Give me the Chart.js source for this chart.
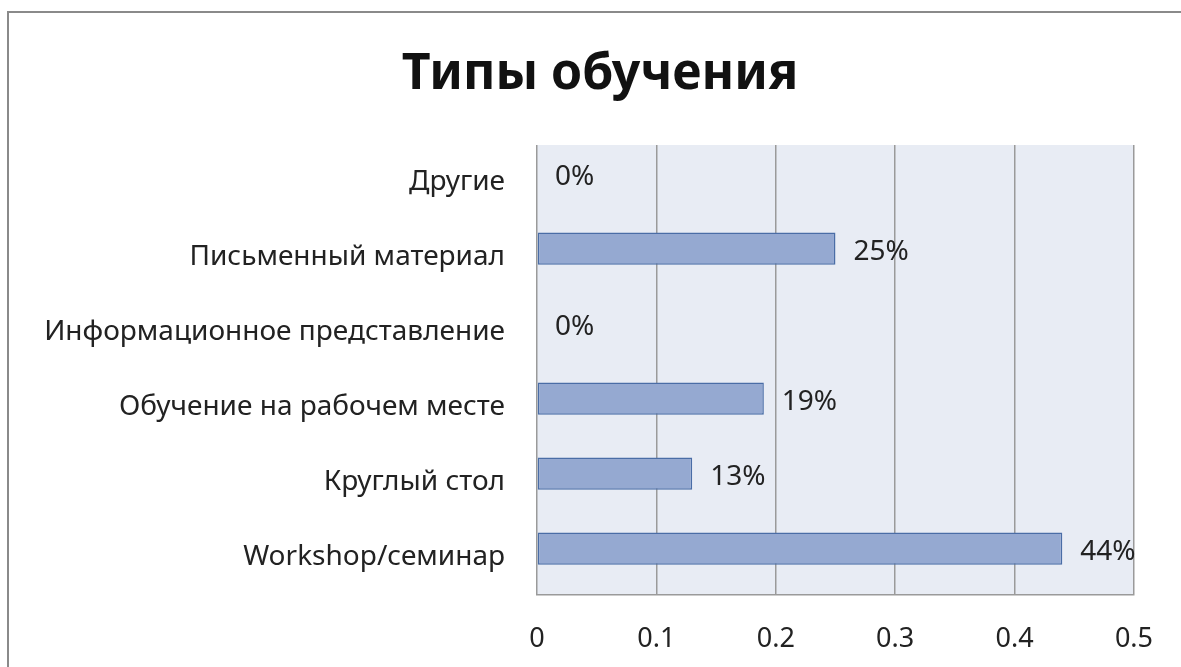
<!DOCTYPE html>
<html>
<head>
<meta charset="utf-8">
<script src="https://cdn.jsdelivr.net/npm/chart.js@4"></script>
<style>
  html, body { margin: 0; padding: 0; background: #fff; overflow: hidden; }
  .frame { position: absolute; left: 7px; top: 11px; width: 1300px; height: 800px; border: 2px solid #8a8a8a; }
  .wrap { position: absolute; left: 0; top: 0; width: 1181px; height: 667px; }
</style>
</head>
<body>
<div class="frame"></div>
<div class="wrap"><canvas id="chart" width="1181" height="667"></canvas></div>
<script>
// Chart data
const chartTitle = 'Типы обучения';
const categories = ['Другие', 'Письменный материал', 'Информационное представление', 'Обучение на рабочем месте', 'Круглый стол', 'Workshop/семинар'];
const shares = [0, 0.25, 0, 0.19, 0.13, 0.44];
const shareLabels = ['0%', '25%', '0%', '19%', '13%', '44%'];
const xTicks = [0, 0.1, 0.2, 0.3, 0.4, 0.5];

const FONT = '"Noto Sans", "Open Sans", sans-serif';
const BAR_SHIFT = -9; // bars sit a little above the category centre, as in the original

const decor = {
    id: 'decor',
    beforeDraw(chart) {
        const a = chart.chartArea, c = chart.ctx;
        c.save();
        c.fillStyle = '#e8ecf4';
        c.fillRect(a.left, a.top, a.right - a.left, a.bottom - a.top);
        // title
        c.font = 'bold 50px ' + FONT;
        c.fillStyle = '#111';
        c.textAlign = 'center';
        c.textBaseline = 'middle';
        c.fillText(chartTitle, 600, 75);
        c.restore();
    },
    beforeDatasetsDraw(chart) {
        chart.ctx.save();
        chart.ctx.translate(0, BAR_SHIFT);
    },
    afterDatasetsDraw(chart) {
        const c = chart.ctx;
        const meta = chart.getDatasetMeta(0);
        c.font = '28px ' + FONT;
        c.fillStyle = '#222';
        c.textBaseline = 'middle';
        meta.data.forEach((bar, i) => {
            c.fillText(shareLabels[i], bar.x + 18, bar.y + 4);
        });
        c.restore();
    }
};

new Chart(document.getElementById('chart'), {
    type: 'bar',
    data: {
        labels: categories,
        datasets: [{
            data: shares,
            backgroundColor: '#95a9d1',
            borderColor: '#4a6da6',
            borderWidth: 1.5,
            borderSkipped: false,
            barPercentage: 0.43,
            categoryPercentage: 1
        }]
    },
    options: {
        indexAxis: 'y',
        responsive: false,
        animation: false,
        layout: { padding: { left: 0, right: 45, top: 145, bottom: 0 } },
        plugins: {
            legend: { display: false },
            tooltip: { enabled: false },
            title: { display: false }
        },
        scales: {
            x: {
                min: 0,
                max: 0.5,
                afterBuildTicks(scale) { scale.ticks = xTicks.map(v => ({ value: v })); },
                afterFit(scale) { scale.height = 72; },
                grid: { color: '#9a9a9a', lineWidth: 1.5, drawTicks: false },
                border: { display: true, color: '#9a9a9a', width: 1.5 },
                ticks: { color: '#222', font: { family: FONT, size: 27 }, padding: 28 }
            },
            y: {
                afterFit(scale) { scale.width = 537; },
                grid: { display: false },
                border: { display: false },
                ticks: { color: '#222', font: { family: FONT, size: 28 }, padding: 24 }
            }
        }
    },
    plugins: [decor]
});
</script>
</body>
</html>
